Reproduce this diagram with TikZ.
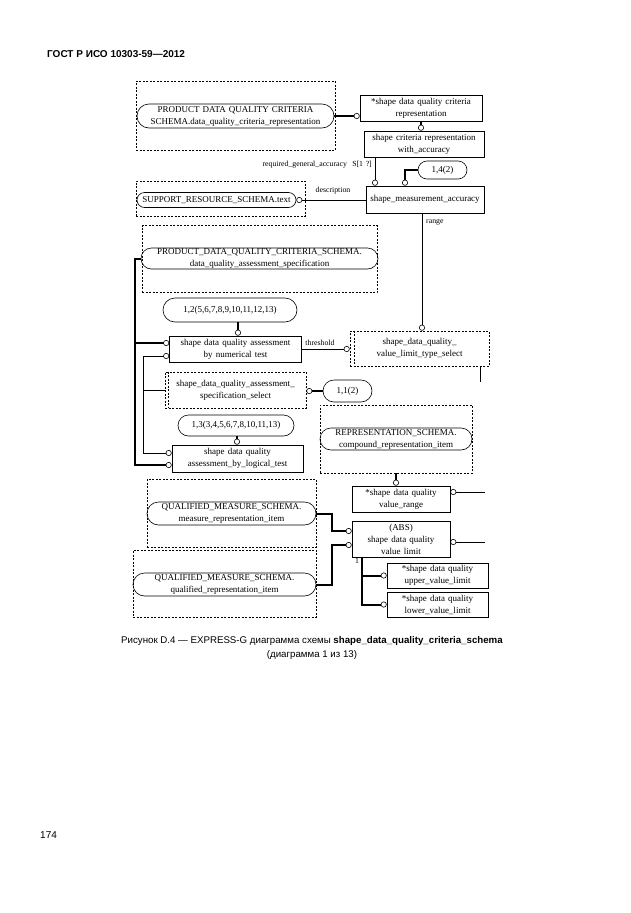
\documentclass[tikz,border=0pt]{standalone}
\usepackage{fontspec}
\setmainfont{Liberation Serif}
\newfontfamily\dgfont{Liberation Serif}[WordSpace=1.35]
\newfontfamily\hdfont{Liberation Sans}
\usetikzlibrary{arrows.meta,shapes.misc}
\begin{document}
\begin{tikzpicture}[x=1pt,y=-1pt,
  ent/.style={draw,line width=0.6pt,rectangle,align=center,font=\dgfont\fontsize{9}{12}\selectfont},
  refnode/.style={ent,rounded rectangle},
  pageref/.style={draw,line width=0.6pt,dash pattern=on 2pt off 1.5pt},
  rel/.style={line width=0.6pt,-{Circle[open,length=6pt,width=6pt,line width=0.6pt]}},
  mid/.style={rel,line width=1.3pt},
  sub/.style={rel,line width=2pt},
  lbl/.style={font=\dgfont\fontsize{7.8}{9}\selectfont}]
\tikzstyle{every node}+=[inner sep=0pt]
\useasboundingbox (0,0) rectangle (630,913);
\node[anchor=base west,font=\hdfont\fontsize{10}{12}\selectfont\bfseries] (hdr) at (47,57) {ГОСТ Р ИСО 10303-59—2012};
\node[pageref,minimum width=199pt,minimum height=69pt] (critbox) at (235.5,115.5) {};
\node[refnode,minimum width=197pt,minimum height=24pt] (crit) at (235.5,116) {PRODUCT DATA QUALITY CRITERIA\\SCHEMA.data\_quality\_criteria\_representation};
\node[ent,minimum width=122pt,minimum height=26pt] (crep) at (421,108) {*shape data quality criteria\\representation};
\node[ent,minimum width=120pt,minimum height=26pt] (cacc) at (424,144) {shape criteria representation\\with\_accuracy};
\node[refnode,minimum width=49pt,minimum height=18pt] (o14) at (442.5,170) {1,4(2)};
\node[ent,minimum width=118pt,minimum height=27pt] (sma) at (425,199.5) {shape\_measurement\_accuracy};
\node[pageref,minimum width=169pt,minimum height=35pt] (supbox) at (220.5,198.5) {};
\node[refnode,minimum width=159pt,minimum height=15pt] (sup) at (216.5,200) {SUPPORT\_RESOURCE\_SCHEMA.text};
\node[pageref,minimum width=235pt,minimum height=67pt] (pdqbox) at (259.5,259) {};
\node[refnode,minimum width=237pt,minimum height=21pt] (pdq) at (259.5,258.5) {PRODUCT\_DATA\_QUALITY\_CRITERIA\_SCHEMA.\\data\_quality\_assessment\_specification};
\node[refnode,minimum width=134pt,minimum height=24pt] (o12) at (230,310) {1,2(5,6,7,8,9,10,11,12,13)};
\node[ent,minimum width=132pt,minimum height=26pt] (num) at (235.5,349) {shape data quality assessment\\by numerical test};
\node[ent,pageref,minimum width=139pt,minimum height=35pt] (vlts) at (419.5,348.5) {shape\_data\_quality\_\\value\_limit\_type\_select};
\draw[pageref] ([xshift=5pt]vlts.north west) -- ([xshift=5pt]vlts.south west);
\node[ent,pageref,minimum width=141pt,minimum height=36pt] (sel) at (235.5,390) {shape\_data\_quality\_assessment\_\\specification\_select};
\draw[pageref] ([xshift=4pt]sel.north west) -- ([xshift=4pt]sel.south west);
\node[refnode,minimum width=49pt,minimum height=22pt] (o11) at (347.5,391) {1,1(2)};
\node[refnode,minimum width=116pt,minimum height=21pt] (o13) at (236,425.5) {1,3(3,4,5,6,7,8,10,11,13)};
\node[ent,minimum width=131pt,minimum height=27pt] (logic) at (237.5,458.5) {shape data quality\\assessment\_by\_logical\_test};
\node[pageref,minimum width=152pt,minimum height=68pt] (repbox) at (396,439) {};
\node[refnode,minimum width=152pt,minimum height=22pt] (rep) at (396,439) {REPRESENTATION\_SCHEMA.\\compound\_representation\_item};
\node[ent,minimum width=98pt,minimum height=26pt] (vr) at (401,499) {*shape data quality\\value\_range};
\node[pageref,minimum width=169pt,minimum height=68pt] (qm1box) at (231.5,513) {};
\node[refnode,minimum width=169pt,minimum height=23pt] (qm1) at (231.5,513.5) {QUALIFIED\_MEASURE\_SCHEMA.\\measure\_representation\_item};
\node[pageref,minimum width=183pt,minimum height=67pt] (qm2box) at (224.5,583.5) {};
\node[refnode,minimum width=183pt,minimum height=23pt] (qm2) at (224.5,584.5) {QUALIFIED\_MEASURE\_SCHEMA.\\qualified\_representation\_item};
\node[ent,minimum width=98pt,minimum height=36pt] (vlim) at (401,539) {(ABS)\\shape data quality\\value limit};
\node[ent,minimum width=101pt,minimum height=25pt] (upper) at (437.5,575.5) {*shape data quality\\upper\_value\_limit};
\node[ent,minimum width=101pt,minimum height=25pt] (lower) at (437.5,604.5) {*shape data quality\\lower\_value\_limit};
\coordinate (vrR) at (485,492);
\coordinate (vlR) at (485,542);
\coordinate (vtsD) at (480,382);
\draw[sub] (crit.east) -- (crit.east -| crep.west);
\draw[sub] (crep.south) -- (crep.south |- cacc.north);
\draw[rel] (375,0 |- cacc.south) -- (375,0 |- sma.north);
\node[lbl,anchor=base east] (lreq) at (372,166) {required\_general\_accuracy\ \ S[1 ?]};
\draw[mid] (o14.west) -| (405,0 |- sma.north);
\draw[rel] (sma.west |- sup.east) -- (sup.east);
\node[lbl,anchor=base] (ldesc) at (333,192) {description};
\draw[rel] (422,0 |- sma.south) -- (422,0 |- vlts.north);
\node[lbl,anchor=base west] (lrange) at (426,223) {range};
\draw[sub] (pdq.west) -- (135,258.5) |- ([yshift=-6.5pt]logic.west);
\draw[sub] (135,343) -- ([yshift=6pt]num.west);
\draw[line width=0.6pt] (sel.west) -- (143,390);
\draw[rel] (143,390) |- ([yshift=-7pt]num.west);
\draw[rel] (143,390) |- ([yshift=5.5pt]logic.west);
\draw[mid] (238,0 |- o12.south) -- (238,0 |- num.north);
\draw[rel] (num.east |- 0,349) -- (vlts.west |- 0,349);
\node[lbl,anchor=base] (lthr) at (320,345) {threshold};
\draw[sub] (o11.west) -- (o11.west -| sel.east);
\draw[mid] (237,0 |- o13.south) -- (237,0 |- logic.north);
\draw[line width=0.6pt] (vtsD |- vlts.south) -- (vtsD);
\draw[sub] (396,0 |- repbox.south) -- (396,0 |- vr.north);
\draw[rel] (vrR) -- (vrR -| vr.east);
\draw[rel] (vlR) -- (vlR -| vlim.east);
\draw[sub] (qm1.east) -| (332,531) -- ([yshift=8pt]vlim.west);
\draw[sub] (qm2.east) -| (332,545) -- ([yshift=-6pt]vlim.west);
\draw[sub] (362,0 |- vlim.south) |- (lower.west);
\draw[sub] (362,0 |- upper.west) -- (upper.west);
\node[lbl,anchor=base] (lone) at (357,563) {1};
\node[align=center,font=\hdfont\fontsize{9.7}{14}\selectfont] (cap) at (312,648) {Рисунок D.4 — EXPRESS-G диаграмма схемы \textbf{shape\_data\_quality\_criteria\_schema}\\(диаграмма 1 из 13)};
\node[anchor=base west,font=\hdfont\fontsize{10}{12}\selectfont] (pg) at (40,838) {174};
\end{tikzpicture}
\end{document}
